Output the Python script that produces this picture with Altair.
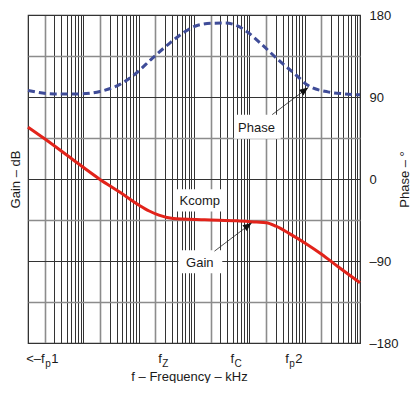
import altair as alt
import pandas as pd

# ---- data ----
gain_freq = [1, 2, 6, 20, 46, 102, 155, 232, 393, 1560, 5970, 13500, 20200,
             30300, 52100, 102600, 202300, 397000, 1000000]
gain_db = [25.3, 19.6, 10.1, -0.2, -6.5, -12.8, -15.6, -17.6, -19.1, -19.9,
           -20.4, -21.0, -21.3, -23.0, -26.5, -31.3, -36.7, -42.7, -50.6]

phase_freq = [1, 3, 9, 20, 46, 91, 174, 348, 693, 1175, 2160, 3670, 5970, 8970,
              16500, 34300, 68400, 116000, 262000, 523000, 1000000]
phase_deg = [97.2, 93.4, 93.4, 96.1, 103.9, 116.3, 132.2, 148.1, 161.9, 168.8,
             171.0, 171.2, 168.3, 161.9, 148.1, 130.1, 114.7, 102.5, 95.6, 93.4, 92.4]

label_freq = [2.0, 262, 5290, 51600]
label_main = ["<–f", "f", "f", "f"]
label_sub = ["p", "Z", "C", "p"]
label_suffix = ["1", "", "", "2"]

phase_ticks = [-180, -90, 0, 90, 180]
gain_grid = [-80, -60, -40, -20, 0, 20, 40, 60, 80]
decades = [1, 10, 100, 1000, 10000, 100000]
freq_grid = [d * k for d in decades for k in range(1, 10)] + [1000000]

note_text = ["Kcomp", "Phase", "Gain"]
note_freq = [1276, 13500, 1276]
note_gain = [-10.6, 24.8, -40.8]
box_f1 = [480, 5300, 522]
box_f2 = [3670, 37000, 3245]
box_g1 = [-4.96, 19.6, -34.7]
box_g2 = [-15.8, 31.4, -46.0]
arrow_f1 = [25900, 2345]
arrow_g1 = [31.4, -35.2]
arrow_f2 = [116000, 10970]
arrow_g2 = [44.6, -21.5]

W, H = 332, 328
FONT = "Liberation Sans"
TXT = "#1a1a1a"

gain_df = pd.DataFrame({"f": gain_freq, "g": gain_db})
phase_df = pd.DataFrame({"f": phase_freq, "p": phase_deg})
label_df = pd.DataFrame({"f": label_freq, "main": label_main, "sub": label_sub, "suf": label_suffix})
note_df = pd.DataFrame({"f": note_freq, "g": note_gain, "t": note_text})
box_df = pd.DataFrame({"f": box_f1, "f2": box_f2, "g": box_g1, "g2": box_g2})
arrow_df = pd.DataFrame({"f": arrow_f1, "g": arrow_g1, "f2": arrow_f2, "g2": arrow_g2})
head_df = pd.DataFrame({"f": arrow_f2, "g": arrow_g2})

TWO = "round(datum.value / pow(10, floor(log(datum.value) / LN10 + 1e-9))) == 2"

x_axis = alt.Axis(
    values=freq_grid, labels=False, ticks=False, domain=False, grid=True,
    gridColor={"condition": {"test": TWO, "value": "#8c8c8c"}, "value": "#333333"},
    gridWidth={"condition": {"test": TWO, "value": 1.6}, "value": 1},
    gridOpacity=1,
    title="f – Frequency – kHz", titleX=W / 2 - 5, titleY=37,
    titleAlign="center", titleBaseline="alphabetic", titleFontSize=13,
    titleFontWeight="normal", titleColor=TXT, titleFont=FONT,
)
x_scale = alt.Scale(type="log", domain=[1, 1000000], nice=False)


def X(field="f"):
    return alt.X(f"{field}:Q", scale=x_scale, axis=x_axis)


g_axis = alt.Axis(
    values=gain_grid, orient="left", labels=False, ticks=False, domain=False, grid=True,
    gridColor={"condition": {"test": "abs(datum.value) % 40 == 20", "value": "#8c8c8c"},
               "value": "#333333"},
    gridWidth={"condition": {"test": "abs(datum.value) % 40 == 20", "value": 1.4}, "value": 1},
    gridOpacity=1,
    title="Gain – dB", titleAngle=270, titleX=-13, titleY=H / 2,
    titleAlign="center", titleBaseline="middle", titleFontSize=13,
    titleFontWeight="normal", titleColor=TXT, titleFont=FONT,
)
g_scale = alt.Scale(domain=[-80, 80], nice=False, zero=False)


def YG(field="g"):
    return alt.Y(f"{field}:Q", scale=g_scale, axis=g_axis)


p_axis = alt.Axis(
    values=phase_ticks, orient="right", grid=False, ticks=False, domain=False,
    labelPadding=9, labelFontSize=13, labelColor=TXT, labelFont=FONT,
    labelExpr="datum.value < 0 ? '–' + abs(datum.value) : '' + datum.value",
    title="Phase – °", titleAngle=270, titleX=44, titleY=H / 2,
    titleAlign="center", titleBaseline="middle", titleFontSize=13,
    titleFontWeight="normal", titleColor=TXT, titleFont=FONT,
)
p_scale = alt.Scale(domain=[-180, 180], nice=False, zero=False)

boxes = alt.Chart(box_df).mark_rect(color="white", opacity=1).encode(
    x=X(), x2="f2:Q", y=YG(), y2="g2:Q")

gain_line = alt.Chart(gain_df).mark_line(
    color="#E2231A", strokeWidth=3, interpolate="monotone").encode(x=X(), y=YG())

arrows = alt.Chart(arrow_df).mark_rule(color="#222222", strokeWidth=0.8).encode(
    x=X(), x2="f2:Q", y=YG(), y2="g2:Q")

heads = alt.Chart(head_df).mark_point(
    shape="M0,0 L-0.42,1 L0.42,1 Z", size=300, angle=54, filled=True,
    color="#111111", opacity=1, strokeWidth=0).encode(x=X(), y=YG())

notes = alt.Chart(note_df).mark_text(
    font=FONT, fontSize=13, color=TXT, align="center", baseline="middle").encode(
    x=X(), y=YG(), text="t:N")

lab_main = alt.Chart(label_df).mark_text(
    font=FONT, fontSize=13, color=TXT, align="right", baseline="alphabetic").encode(
    x=X(), y=alt.value(H + 20), text="main:N")
lab_sub = alt.Chart(label_df).mark_text(
    font=FONT, fontSize=10, color=TXT, align="left", baseline="alphabetic", dx=0.5).encode(
    x=X(), y=alt.value(H + 24), text="sub:N")
lab_suf = alt.Chart(label_df).mark_text(
    font=FONT, fontSize=13, color=TXT, align="left", baseline="alphabetic", dx=6.5).encode(
    x=X(), y=alt.value(H + 20), text="suf:N")

gain_group = alt.layer(boxes, gain_line, arrows, heads, notes, lab_main, lab_sub, lab_suf)

phase_line = alt.Chart(phase_df).mark_line(
    color="#3F4C98", strokeWidth=3, strokeDash=[7, 4], interpolate="monotone").encode(
    x=X(), y=alt.Y("p:Q", scale=p_scale, axis=p_axis))

chart = alt.layer(gain_group, phase_line).resolve_scale(y="independent").properties(
    width=W, height=H,
    autosize=alt.AutoSizeParams(type="none"),
    padding={"left": 20, "top": 7, "right": 50, "bottom": 40},
).configure(font=FONT, background="white").configure_view(stroke="#333333", strokeWidth=1.2)

chart.save("out.html", embed_options={"renderer": "svg", "actions": False})
